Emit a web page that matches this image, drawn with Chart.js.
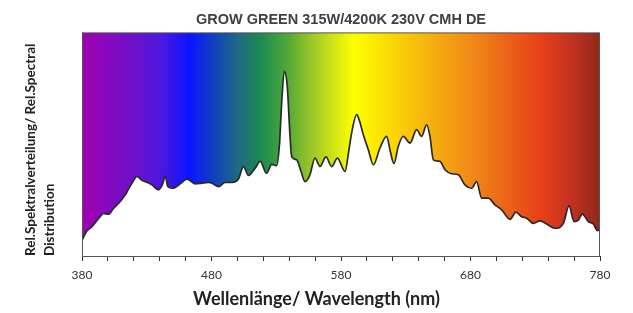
<!DOCTYPE html>
<html>
<head>
<meta charset="utf-8">
<script src="https://cdn.jsdelivr.net/npm/chart.js@4.4.0/dist/chart.umd.min.js"></script>
<style>
    html, body { margin: 0; padding: 0; background: #fff; }
    #wrap { width: 633px; height: 313px; }
</style>
</head>
<body>
<div id="wrap"><canvas id="spectrumChart"></canvas></div>
<script>
// wavelength (nm) and relative intensity
const wavelengths = [380, 383.5, 387.5, 391, 394, 396.5, 400.5, 404, 409.5, 413, 416, 419, 422.5, 426, 430, 434, 439, 442, 444.3, 446.3,
    450, 455.8, 461, 467.4, 472, 477.7, 480.3, 485.4, 490.5, 495.7, 500.8, 504.7, 508.5, 513.7, 517.5, 522.6, 526.5, 530.3, 532.5, 534.2,
    536.2, 538.5, 540.5, 541.9, 545.7, 549, 552.2, 556, 559.9, 563.8, 568.4, 572.8, 577.2, 583.1, 586, 588.2, 592.1, 594.5, 597.2, 601.1,
    605, 610.1, 615.2, 618, 620.9, 624.2, 628.1, 633.3, 638.4, 642.3, 646.1, 648.7, 651.3, 656.4, 660.3, 665.4, 670.6, 675.7, 680.9, 684.7,
    688.6, 693.7, 698.9, 704.1, 710.5, 715.1, 719.5, 723.4, 728.5, 733.7, 738.8, 745.2, 751.7, 756.1, 760, 763.3, 766.4, 771, 774.9, 778, 780];
const intensity = [0.07, 0.11, 0.13, 0.155, 0.176, 0.19, 0.187, 0.21, 0.244, 0.27, 0.30, 0.33, 0.356, 0.34, 0.33, 0.318, 0.296, 0.318, 0.356, 0.31,
    0.303, 0.323, 0.344, 0.323, 0.325, 0.329, 0.326, 0.31, 0.329, 0.329, 0.344, 0.40, 0.36, 0.393, 0.423, 0.37, 0.41, 0.404, 0.5, 0.685,
    0.826, 0.76, 0.55, 0.445, 0.43, 0.38, 0.333, 0.363, 0.438, 0.40, 0.443, 0.40, 0.438, 0.378, 0.47, 0.55, 0.632, 0.6, 0.543, 0.475,
    0.408, 0.483, 0.535, 0.47, 0.413, 0.49, 0.535, 0.505, 0.565, 0.535, 0.587, 0.535, 0.43, 0.423, 0.386, 0.368, 0.363, 0.318, 0.303, 0.333,
    0.259, 0.259, 0.229, 0.206, 0.164, 0.196, 0.176, 0.169, 0.146, 0.157, 0.143, 0.124, 0.146, 0.224, 0.154, 0.161, 0.187, 0.154, 0.143, 0.113, 0.12];

const xMin = 380, xMax = 780, xStep = 20, labelStep = 100;
const xTitle = 'Wellenlänge/ Wavelength (nm)';

// rainbow behind the curve, stops as fraction of plot width
const spectrumStops = [
    [0, '#a000b0'], [0.093, '#7010c8'], [0.156, '#4a18e0'], [0.208, '#0a14ff'], [0.253, '#1040c0'],
    [0.305, '#206c80'], [0.344, '#1a8a50'], [0.396, '#50a838'], [0.446, '#a0c828'], [0.525, '#ffff00'],
    [0.627, '#f8c808'], [0.754, '#f08818'], [0.884, '#e84018'], [0.948, '#c03020'], [1, '#902818']
];

function rainbow(context) {
    const area = context.chart.chartArea;
    if (!area) return '#ffffff';
    const g = context.chart.ctx.createLinearGradient(area.left, 0, area.right, 0);
    spectrumStops.forEach(s => g.addColorStop(s[0], s[1]));
    return g;
}

// box round the plot + x title centred on the whole chart (like the original)
const frame = {
    id: 'frame',
    afterDraw(chart) {
        const a = chart.chartArea;
        const c = chart.ctx;
        c.save();
        c.strokeStyle = '#555';
        c.lineWidth = 1;
        c.strokeRect(a.left + 0.5, a.top + 0.5, a.right - a.left - 1, a.bottom - a.top);
        c.fillStyle = '#222';
        c.font = 'bold 18px Lato';
        c.textAlign = 'center';
        c.textBaseline = 'middle';
        c.fillText(xTitle, chart.width / 2, 299);
        c.restore();
    }
};

const ctxSpectrum = document.getElementById('spectrumChart').getContext('2d');
const spectrumChart = new Chart(ctxSpectrum, {
    type: 'line',
    data: {
        datasets: [{
            data: wavelengths.map((w, i) => ({ x: w, y: intensity[i] })),
            borderColor: '#2a2a2a',
            borderWidth: 1.7,
            backgroundColor: rainbow,
            fill: 'end',
            pointRadius: 0,
            cubicInterpolationMode: 'monotone'
        }]
    },
    options: {
        responsive: true,
        maintainAspectRatio: false,
        animation: false,
        layout: { padding: { left: 20, right: 33, top: 0, bottom: 0 } },
        plugins: {
            legend: { display: false },
            tooltip: { enabled: false },
            title: {
                display: true,
                fullSize: false,
                text: 'GROW GREEN 315W/4200K 230V CMH DE',
                color: '#404040',
                font: { family: 'Liberation Sans', size: 14.5, weight: 'bold' },
                padding: { top: 11, bottom: 4 }
            }
        },
        scales: {
            x: {
                type: 'linear',
                min: xMin,
                max: xMax,
                afterFit: s => { s.height = 57; },
                grid: { drawOnChartArea: false, drawTicks: true, tickLength: 5, color: '#333' },
                border: { display: true, color: '#333' },
                ticks: {
                    stepSize: xStep,
                    autoSkip: false,
                    maxRotation: 0,
                    padding: 7,
                    color: '#333',
                    font: { family: 'Lato', size: 12 },
                    callback: v => ((v - xMin) % labelStep === 0 ? v : '')
                }
            },
            y: {
                min: 0,
                max: 1,
                afterFit: s => { s.width = 62; },
                grid: { display: false, drawTicks: false },
                border: { display: true, color: '#555' },
                ticks: { display: false },
                title: {
                    display: true,
                    align: 'start',
                    text: ['Rel.Spektralverteilung/ Rel.Spectral', 'Distribution'],
                    color: '#222',
                    font: { family: 'Lato', size: 13.5, weight: 'bold', lineHeight: 1.4 },
                    padding: { top: 1, bottom: 23 }
                }
            }
        }
    },
    plugins: [frame]
});
</script>
</body>
</html>
